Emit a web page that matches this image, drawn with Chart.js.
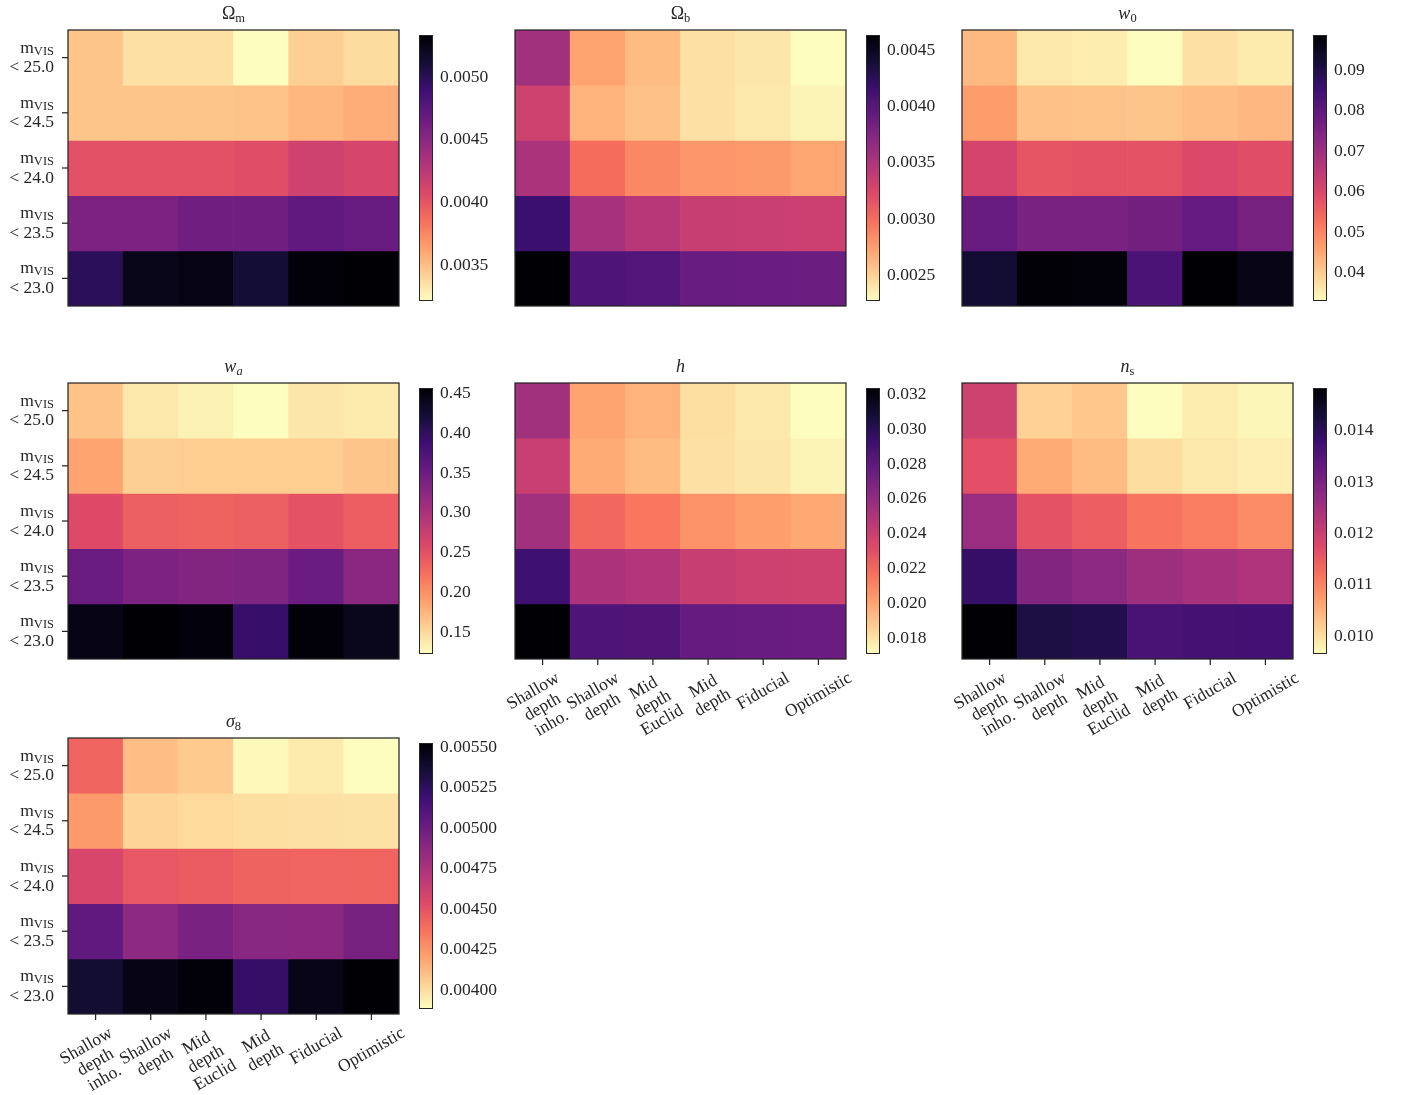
<!DOCTYPE html>
<html><head><meta charset="utf-8">
<script src="https://cdn.jsdelivr.net/npm/chart.js@4.4.1/dist/chart.umd.min.js"></script>
<style>
html,body{margin:0;padding:0;background:#fff;}
#fig{position:relative;width:1402px;height:1095px;overflow:hidden;background:#fff;}
canvas{position:absolute;}
</style></head><body><div id="fig"></div>
<script>
const FONT = '"Liberation Serif", "DejaVu Serif", serif';
const INK = '#262626';

// categories
const columns = [['Shallow','depth','inho.'], ['Shallow','depth'], ['Mid','depth','Euclid'], ['Mid','depth'], ['Fiducial'], ['Optimistic']];
const magCuts = ['25.0','24.5','24.0','23.5','23.0'];

// values: rows = magnitude cuts (top to bottom), columns = survey configurations
const omegaM = [
 [0.003473,0.003347,0.003347,0.003220,0.003431,0.003368],
 [0.003473,0.003473,0.003473,0.003484,0.003537,0.003579],
 [0.004022,0.004022,0.004022,0.004043,0.004148,0.004106],
 [0.004570,0.004570,0.004634,0.004634,0.004718,0.004676],
 [0.004992,0.005246,0.005267,0.005119,0.005309,0.005330]];
const omegaB = [
 [0.003571,0.002725,0.002608,0.002420,0.002396,0.002279],
 [0.003313,0.002655,0.002584,0.002420,0.002385,0.002326],
 [0.003524,0.003007,0.002866,0.002796,0.002772,0.002714],
 [0.004158,0.003547,0.003454,0.003360,0.003348,0.003336],
 [0.004628,0.004041,0.004029,0.003900,0.003888,0.003876]];
const w0 = [
 [0.04258,0.03604,0.03539,0.03310,0.03702,0.03572],
 [0.04651,0.04160,0.04128,0.04095,0.04193,0.04291],
 [0.06090,0.05730,0.05763,0.05763,0.05959,0.05861],
 [0.07823,0.07528,0.07528,0.07659,0.07888,0.07594],
 [0.09229,0.09810,0.09752,0.08280,0.09850,0.09621]];
const wa = [
 [0.1651,0.1385,0.1318,0.1235,0.1401,0.1368],
 [0.1867,0.1568,0.1575,0.1584,0.1584,0.1634],
 [0.2565,0.2366,0.2349,0.2366,0.2482,0.2382],
 [0.3513,0.3363,0.3313,0.3346,0.3513,0.3247],
 [0.4444,0.4560,0.4510,0.3928,0.4527,0.4394]];
const hSig = [
 [0.02549,0.02001,0.01955,0.01811,0.01780,0.01712],
 [0.02404,0.01978,0.01925,0.01803,0.01788,0.01742],
 [0.02549,0.02199,0.02146,0.02054,0.02016,0.01986],
 [0.02921,0.02511,0.02488,0.02412,0.02389,0.02381],
 [0.03233,0.02853,0.02849,0.02769,0.02762,0.02754]];
const nsSig = [
 [0.01193,0.01015,0.01025,0.00966,0.00984,0.00974],
 [0.01165,0.01056,0.01038,0.01002,0.00989,0.00982],
 [0.01260,0.01160,0.01144,0.01116,0.01105,0.01090],
 [0.01387,0.01289,0.01276,0.01255,0.01245,0.01234],
 [0.01482,0.01418,0.01410,0.01361,0.01366,0.01369]];
const sigma8 = [
 [0.004427,0.004108,0.004067,0.003903,0.003952,0.003887],
 [0.004231,0.004034,0.004010,0.003993,0.003985,0.003982],
 [0.004566,0.004485,0.004460,0.004435,0.004433,0.004427],
 [0.005049,0.004869,0.004943,0.004886,0.004877,0.004959],
 [0.005377,0.005467,0.005508,0.005221,0.005460,0.005524]];

// colorbar tick labels
const cbOmegaM = ['0.0035','0.0040','0.0045','0.0050'];
const cbOmegaB = ['0.0025','0.0030','0.0035','0.0040','0.0045'];
const cbW0 = ['0.04','0.05','0.06','0.07','0.08','0.09'];
const cbWa = ['0.15','0.20','0.25','0.30','0.35','0.40','0.45'];
const cbH = ['0.018','0.020','0.022','0.024','0.026','0.028','0.030','0.032'];
const cbNs = ['0.010','0.011','0.012','0.013','0.014'];
const cbS8 = ['0.00400','0.00425','0.00450','0.00475','0.00500','0.00525','0.00550'];

// magma colormap (reversed use)
const MAGMA = ['#000004','#140e36','#3b0f70','#641a80','#8c2981','#b73779','#de4968','#f7705c','#fe9f6d','#fecf92','#fcfdbf'];
const MAG_RGB = MAGMA.map(h => [1,3,5].map(i => parseInt(h.slice(i,i+2),16)));
function magmaR(t){
  t = Math.max(0, Math.min(1, t));
  const s = (1 - t) * 10; const i = Math.min(9, Math.floor(s)); const f = s - i;
  const a = MAG_RGB[i], b = MAG_RGB[i+1];
  return 'rgb(' + a.map((v,k) => Math.round(v + (b[k]-v)*f)).join(',') + ')';
}

function fontStr(p){ return (p.it ? 'italic ' : '') + (p.size || 18) + 'px ' + FONT; }
function drawRich(ctx, parts, x, y, align){
  let total = 0;
  const ws = parts.map(p => { ctx.font = fontStr(p); const w = ctx.measureText(p.t).width; total += w; return w; });
  let cx = align === 'center' ? x - total/2 : (align === 'right' ? x - total : x);
  ctx.textAlign = 'left'; ctx.textBaseline = 'alphabetic';
  parts.forEach((p,i) => { ctx.font = fontStr(p); ctx.fillText(p.t, cx, y + (p.dy || 0)); cx += ws[i]; });
}

const SUB = 12.5, LBL = 17.5;
const panels = [
  {data: omegaM, ticks: cbOmegaM, col:0, row:0, ylab:true,  xlab:false, title:[{t:'Ω'},{t:'m',size:SUB,dy:3}]},
  {data: omegaB, ticks: cbOmegaB, col:1, row:0, ylab:false, xlab:false, title:[{t:'Ω'},{t:'b',size:SUB,dy:3}]},
  {data: w0,     ticks: cbW0,     col:2, row:0, ylab:false, xlab:false, title:[{t:'w',it:true},{t:'0',size:SUB,dy:3}]},
  {data: wa,     ticks: cbWa,     col:0, row:1, ylab:true,  xlab:false, title:[{t:'w',it:true},{t:'a',size:SUB,dy:3,it:true}]},
  {data: hSig,   ticks: cbH,      col:1, row:1, ylab:false, xlab:true,  title:[{t:'h',it:true}]},
  {data: nsSig,  ticks: cbNs,     col:2, row:1, ylab:false, xlab:true,  title:[{t:'n',it:true},{t:'s',size:SUB,dy:3}]},
  {data: sigma8, ticks: cbS8,     col:0, row:2, ylab:true,  xlab:true,  title:[{t:'σ',it:true},{t:'8',size:SUB,dy:3}]}
];

const LEFTS = [68, 515, 962], TOPS = [30, 383, 738];
const HW = 331, HH = 276, CBW = 14, CBOFF = 351;
const fig = document.getElementById('fig');

function addCanvas(x, y, w, h){
  const cv = document.createElement('canvas');
  cv.width = w; cv.height = h;
  cv.style.left = x + 'px'; cv.style.top = y + 'px';
  cv.style.width = w + 'px'; cv.style.height = h + 'px';
  fig.appendChild(cv);
  return cv;
}

function makeHeatmap(p){
  const L = LEFTS[p.col], T = TOPS[p.row];
  const padL = 80, padT = 40, padR = 10, padB = 120;
  const cv = addCanvas(L - padL, T - padT, HW + padL + padR, HH + padT + padB);
  const flat = p.data.flat();
  const vmin = Math.min(...flat), vmax = Math.max(...flat);
  p.vmin = vmin; p.vmax = vmax;
  const labels = columns.map(c => c.join(' '));
  const datasets = p.data.map((rowVals, r) => ({
    data: rowVals.map(() => [r, r + 1]),
    backgroundColor: rowVals.map(v => magmaR((v - vmin) / (vmax - vmin))),
    borderWidth: 0, grouped: false, barPercentage: 1, categoryPercentage: 1
  }));
  const deco = {
    id: 'deco',
    afterDraw(chart){
      const ctx = chart.ctx, a = chart.chartArea;
      const xs = chart.scales.x, ys = chart.scales.y;
      ctx.save();
      ctx.strokeStyle = INK; ctx.lineWidth = 1.25;
      ctx.strokeRect(a.left, a.top, a.right - a.left, a.bottom - a.top);
      ctx.fillStyle = INK;
      // title
      drawRich(ctx, p.title, (a.left + a.right)/2, a.top - 11, 'center');
      // y tick marks and labels
      if (p.ylab){
        magCuts.forEach((m, r) => {
          const yc = ys.getPixelForValue(r + 0.5);
          ctx.beginPath(); ctx.moveTo(a.left - 6, yc); ctx.lineTo(a.left, yc); ctx.stroke();
          drawRich(ctx, [{t:'m',size:LBL},{t:'VIS',size:12.5,dy:2}], a.left - 14, yc - 5, 'right');
          drawRich(ctx, [{t:'< ' + m, size:LBL}], a.left - 14, yc + 14.5, 'right');
        });
      }
      if (p.xlab){
        const th = 30 * Math.PI / 180, c = Math.cos(th), s = Math.sin(th);
        const lh = 18.5;
        columns.forEach((lines, i) => {
          const xc = xs.getPixelForValue(i);
          ctx.beginPath(); ctx.moveTo(xc, a.bottom); ctx.lineTo(xc, a.bottom + 6); ctx.stroke();
          ctx.font = fontStr({size:LBL});
          const w = Math.max(...lines.map(l => ctx.measureText(l).width));
          const h = lines.length * lh;
          const top = a.bottom + 10;
          const tlx = xc - (w*c + h*s)/2, tly = top + w*s;
          ctx.save();
          ctx.translate(tlx, tly); ctx.rotate(-th);
          ctx.textAlign = 'center'; ctx.textBaseline = 'middle';
          lines.forEach((l, k) => ctx.fillText(l, w/2, (k + 0.5) * lh));
          ctx.restore();
        });
      }
      ctx.restore();
    }
  };
  new Chart(cv, {
    type: 'bar',
    data: {labels, datasets},
    options: {
      responsive: false, animation: false, events: [],
      layout: {padding: {left: padL, top: padT, right: padR, bottom: padB}},
      plugins: {legend: {display: false}, tooltip: {enabled: false}},
      scales: {
        x: {type: 'category', display: false, offset: true},
        y: {type: 'linear', display: false, min: 0, max: 5, reverse: true}
      }
    },
    plugins: [deco]
  });
}

function makeColorbar(p){
  const L = LEFTS[p.col] + CBOFF, T = TOPS[p.row];
  const padT = 12, padB = 12, axisW = 80;
  const cv = addCanvas(L, T - padT, CBW + axisW, HH + padT + padB);
  const tickVals = p.ticks.map(s => parseFloat(s));
  const frame = {
    id: 'frame',
    afterDatasetsDraw(chart){
      const ctx = chart.ctx, a = chart.chartArea;
      ctx.save(); ctx.strokeStyle = INK; ctx.lineWidth = 1;
      ctx.strokeRect(a.left + 0.5, a.top, a.right - a.left - 1, a.bottom - a.top);
      ctx.restore();
    }
  };
  new Chart(cv, {
    type: 'bar',
    data: {labels: [''], datasets: [{
      data: [[p.vmin, p.vmax]], borderWidth: 0, barPercentage: 1, categoryPercentage: 1,
      backgroundColor: (context) => {
        const ch = context.chart, a = ch.chartArea;
        if (!a) return '#000';
        const g = ch.ctx.createLinearGradient(0, a.bottom, 0, a.top);
        for (let k = 0; k <= 20; k++){ g.addColorStop(k/20, magmaR(k/20)); }
        return g;
      }
    }]},
    options: {
      responsive: false, animation: false, events: [],
      layout: {padding: {left: 0, top: padT, right: 0, bottom: padB}},
      plugins: {legend: {display: false}, tooltip: {enabled: false}},
      scales: {
        x: {display: false, offset: true},
        y: {
          position: 'right', min: p.vmin, max: p.vmax,
          afterBuildTicks: (ax) => { ax.ticks = tickVals.map(v => ({value: v})); },
          afterFit: (ax) => { ax.width = axisW; },
          grid: {display: false, drawTicks: false},
          border: {display: false},
          ticks: {autoSkip: false, padding: 7, color: INK, font: {family: FONT, size: 17.5},
                  callback: (v, i) => p.ticks[i]}
        }
      }
    },
    plugins: [frame]
  });
}

panels.forEach(p => { makeHeatmap(p); makeColorbar(p); });
</script>
</body></html>
